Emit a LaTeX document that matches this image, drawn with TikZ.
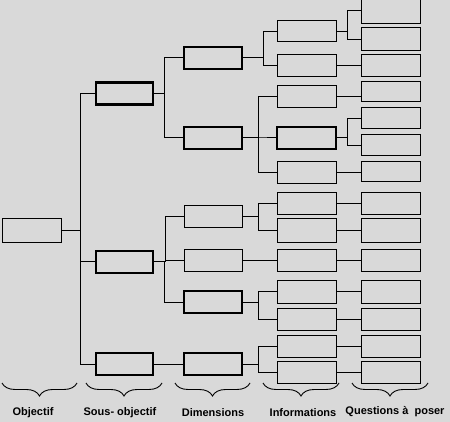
\documentclass[tikz,border=0pt]{standalone}
\usepackage{fontspec}
\setmainfont{Liberation Sans}
\usetikzlibrary{decorations.pathreplacing}
\definecolor{bgray}{RGB}{217,217,217}
\begin{document}
\begin{tikzpicture}[x=1pt,y=-1pt,
  bx/.style={draw=black, line width=1pt, inner sep=0pt, minimum height=22pt},
  thk/.style={line width=2.3pt},
  colO/.style={minimum width=59pt},
  colS/.style={minimum width=57pt},
  colD/.style={minimum width=58pt},
  colI/.style={minimum width=59pt},
  colQ/.style={minimum width=59pt},
  conn/.style={draw=black, line width=1pt},
  brc/.style={draw=black, line width=0.9pt, decorate, decoration={brace, mirror, amplitude=13pt, aspect=0.5}},
  lbl/.style={font=\fontsize{11}{13}\selectfont\bfseries, text=black, inner sep=0pt}]
\useasboundingbox (0,0) rectangle (450,422);
\fill[bgray] (0,0) rectangle (450,422);
\clip (0,0) rectangle (450,422);

% Objectif
\node[bx,colO,minimum height=24pt] (o) at (31.5,231) {};
% Sous-objectifs
\node[bx,colS,thk] (s1) at (124.5,93.5) {};
\node[bx,colS,thk] (s2) at (124.5,262) {};
\node[bx,colS,thk] (s3) at (124.5,364) {};
% Dimensions
\node[bx,colD,thk] (d1) at (213,58) {};
\node[bx,colD,thk] (d2) at (213,138) {};
\node[bx,colD]     (d3) at (213,217) {};
\node[bx,colD]     (d4) at (213,261) {};
\node[bx,colD,thk] (d5) at (213,302) {};
\node[bx,colD,thk] (d6) at (213,364) {};
% Informations
\node[bx,colI,minimum height=21pt] (i1) at (306.5,31.5) {};
\node[bx,colI] (i2) at (306.5,66) {};
\node[bx,colI] (i3) at (306.5,97) {};
\node[bx,colI,thk] (i4) at (306.5,138) {};
\node[bx,colI] (i5) at (306.5,173) {};
\node[bx,colI] (i6) at (306.5,204) {};
\node[bx,colI,minimum height=24pt] (i7) at (306.5,231) {};
\node[bx,colI] (i8) at (306.5,261) {};
\node[bx,colI] (i9) at (306.5,292) {};
\node[bx,colI] (i10) at (306.5,319) {};
\node[bx,colI] (i11) at (306.5,346) {};
\node[bx,colI] (i12) at (306.5,372) {};
% Questions
\node[bx,colQ,minimum height=26pt] (q1) at (390.5,11) {};
\node[bx,colQ,minimum height=23pt] (q2) at (390.5,39.5) {};
\node[bx,colQ] (q3) at (390.5,66) {};
\node[bx,colQ,minimum height=20pt] (q4) at (390.5,92) {};
\node[bx,colQ,minimum height=21pt] (q5) at (390.5,118.5) {};
\node[bx,colQ,minimum height=21pt] (q6) at (390.5,145.5) {};
\node[bx,colQ,minimum height=20pt] (q7) at (390.5,172) {};
\node[bx,colQ] (q8) at (390.5,204) {};
\node[bx,colQ,minimum height=24pt] (q9) at (390.5,231) {};
\node[bx,colQ] (q10) at (390.5,261) {};
\node[bx,colQ] (q11) at (390.5,292) {};
\node[bx,colQ] (q12) at (390.5,319) {};
\node[bx,colQ] (q13) at (390.5,346) {};
\node[bx,colQ] (q14) at (390.5,372) {};

% Connectors: objectif -> sous-objectifs
\foreach \c in {s1,s2,s3}
  \draw[conn] (o.east) -| ([xshift=-14pt]\c.west) -- (\c.west);
% sous-objectifs -> dimensions
\foreach \c in {d1,d2}
  \draw[conn] (s1.east) -| ([xshift=-18pt]\c.west) -- (\c.west);
\foreach \c in {d3,d4,d5}
  \draw[conn] (s2.east) -| ([xshift=-18pt]\c.west) -- (\c.west);
\draw[conn] (s3.east) -- (s3.east -| d6.west);
% dimensions -> informations
\foreach \c in {i1,i2}
  \draw[conn] (d1.east) -| ([xshift=-13pt]\c.west) -- (\c.west);
\foreach \c in {i3,i4,i5}
  \draw[conn] (d2.east) -| ([xshift=-18pt]\c.west) -- (\c.west);
\foreach \c in {i6,i7}
  \draw[conn] (d3.east) -| ([xshift=-18pt]\c.west) -- (\c.west);
\draw[conn] (d4.east) -- (d4.east -| i8.west);
\foreach \c in {i9,i10}
  \draw[conn] (d5.east) -| ([xshift=-18pt]\c.west) -- (\c.west);
\foreach \c in {i11,i12}
  \draw[conn] (d6.east) -| ([xshift=-18pt]\c.west) -- (\c.west);
% informations -> questions
\foreach \c in {q1,q2}
  \draw[conn] (i1.east) -| ([xshift=-13pt]\c.west) -- (\c.west);
\foreach \c in {q5,q6}
  \draw[conn] (i4.east) -| ([xshift=-13pt]\c.west) -- (\c.west);
\foreach \p/\c in {i2/q3,i3/q4,i5/q7,i6/q8,i7/q9,i8/q10,i9/q11,i10/q12,i11/q13,i12/q14}
  \draw[conn] (\p.east) -- (\p.east -| \c.west);

% Braces
\coordinate (b1a) at (2,383);   \coordinate (b1b) at (77,383);
\coordinate (b2a) at (86,383);  \coordinate (b2b) at (162,383);
\coordinate (b3a) at (175,383); \coordinate (b3b) at (250,383);
\coordinate (b4a) at (263,383); \coordinate (b4b) at (339,383);
\coordinate (b5a) at (352,383); \coordinate (b5b) at (428,383);
\foreach \k in {1,...,5}
  \draw[brc] (b\k a) -- (b\k b);

% Labels
\node[lbl] (l1) at (33,413) {Objectif};
\node[lbl] (l2) at (120,413) {Sous- objectif};
\node[lbl] (l3) at (213,413) {Dimensions};
\node[lbl] (l4) at (303,413) {Informations};
\node[lbl] (l5) at (395,412) {Questions à~ poser};
\end{tikzpicture}
\end{document}
